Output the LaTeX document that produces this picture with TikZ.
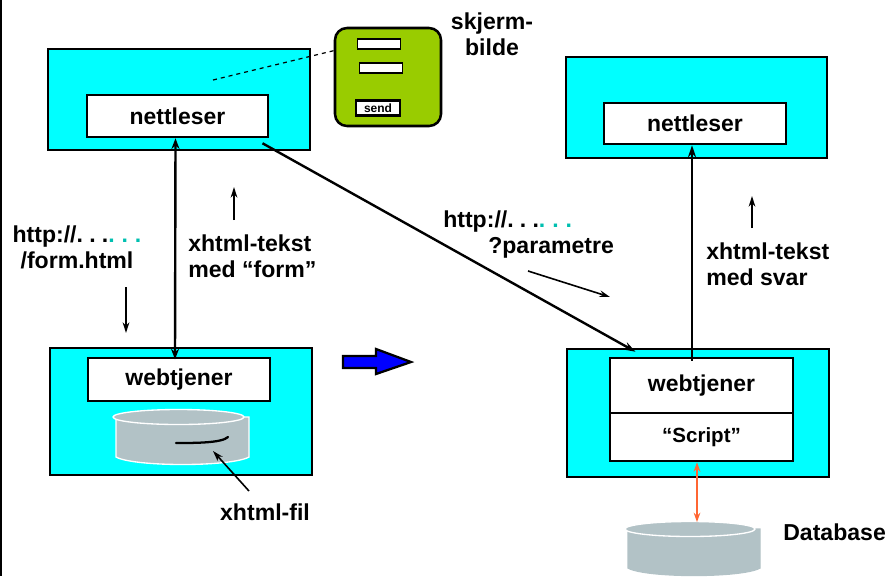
\documentclass[tikz,border=0pt]{standalone}
\usepackage{fontspec}
\setmainfont{Liberation Sans}
\usetikzlibrary{arrows.meta,calc}
\newdimen\px \px=0.75pt
\definecolor{boxcyan}{HTML}{00FFFF}
\definecolor{screengreen}{HTML}{99CC00}
\definecolor{cyl}{HTML}{B2C2C6}
\definecolor{tealdot}{HTML}{00BFB0}
\definecolor{linkorange}{HTML}{FF6633}
\newcommand{\mycyl}[5]{% left, right, top centre y, bottom y, edge colour
  \fill[cyl,draw=#5,line width=1pt] (#1,#3) -- (#1,#4-8) .. controls (#1+18,#4+2) and (#2-18,#4+2) .. (#2,#4-8) -- (#2,#3) -- cycle;
  \fill[cyl,draw=white,line width=1pt] ({(#1+#2)/2-4},#3) ellipse [x radius={(#2-#1)/2-1},y radius=7.5];
}
\newcommand{\dotgap}{\hspace{0.27em}}
\newcommand{\tealgap}{\hspace{0.3em}}
\newcommand{\urltext}{http://.\dotgap.\dotgap.{\color{tealdot}.\tealgap.\tealgap.}}
\tikzset{
  x=0.75pt,y=-0.75pt,
  outerbox/.style={draw=black,fill=boxcyan,line width=1.9pt,inner sep=0pt},
  innerbox/.style={draw=black,fill=white,line width=1.9pt,inner sep=0pt,font=\fontsize{17.2}{19}\selectfont\bfseries},
  fieldbox/.style={draw=black,fill=white,line width=0.9pt,inner sep=0pt},
  lbl/.style={inner sep=0pt,font=\fontsize{17.3}{19.5}\selectfont\bfseries,align=center},
  lblleft/.style={lbl,align=left},
  thick arrow/.style={line width=1.8pt,-{Stealth[length=9pt,width=6pt]}},
  thin arrow/.style={line width=1.2pt,-{Stealth[length=8pt,width=5pt]}},
}
\begin{document}
\begin{tikzpicture}
\useasboundingbox (0,0) rectangle (888,576);
\coordinate (ltop) at (1,0);
\coordinate (lbot) at (1,576);
\draw[line width=1pt] (ltop) -- (lbot);

% left browser
\node[outerbox,minimum width=262\px,minimum height=101\px] (br1) at (179,99.5) {};
\node[innerbox,minimum width=181\px,minimum height=42\px] (nl1) at (177.5,116) {nettleser};
% screen
\node[draw=black,fill=screengreen,line width=1.9pt,rounded corners=9pt,minimum width=106\px,minimum height=98\px,inner sep=0pt] (scr) at (388,77) {};
\node[fieldbox,minimum width=43\px,minimum height=10\px] (f1) at (379,44) {};
\node[fieldbox,minimum width=43\px,minimum height=10\px] (f2) at (381,68) {};
\node[draw=black,fill=white,line width=1.7pt,minimum width=44\px,minimum height=15\px,inner sep=0pt,font=\fontsize{9}{10}\selectfont\bfseries] (snd) at (378,108) {send};
\coordinate (dashend) at (213,80);
\draw[dashed,line width=0.9pt] (dashend) -- ([yshift=-0.5pt]scr.west |- 0,50);
\node[lbl] (skj) at (492,34) {skjerm-\\bilde};

% left server
\node[outerbox,minimum width=262\px,minimum height=127\px] (sv1) at (181,411.5) {};
\node[innerbox,minimum width=182\px,minimum height=43\px] (wt1) at (179,379.5) {webtjener};
\mycyl{116}{249}{417}{465}{white}
\coordinate (c1a) at (176,443);
\coordinate (c1b) at (228,437);
\draw[line width=1.7pt,line cap=round] (c1a) .. controls (195,443) and (222,443) .. (c1b);
\coordinate (fa) at (249,491);
\coordinate (fb) at (213,451);
\draw[thin arrow] (fa) -- (fb);
\node[lbl] (xf) at (265,512) {xhtml-fil};

% arrows left
\draw[line width=1.8pt,{Stealth[length=8pt,width=6pt]}-{Stealth[length=8pt,width=6pt]}] ([xshift=-2\px]nl1.south) -- ([xshift=-4\px,yshift=-2pt]wt1.north);
\coordinate (a1) at (126,287);
\coordinate (a2) at (126,333);
\draw[thin arrow] (a1) -- (a2);
\coordinate (a3) at (234,220);
\coordinate (a4) at (234,187);
\draw[thin arrow] (a3) -- (a4);
\node[lbl] (http1) at (77,247) {\urltext\\/form.html};
\node[lblleft,anchor=west] (xt1) at (188,256) {xhtml-tekst\\med “form”};

% block arrow
\path[draw=black,fill=blue,line width=1.7pt,line join=miter]
  (343,356) -- (376,356) -- (376,349) -- (411,362) -- (376,374) -- (376,368) -- (343,368) -- cycle;

% right browser
\node[outerbox,minimum width=261\px,minimum height=101\px] (br2) at (696.5,107.5) {};
\node[innerbox,minimum width=182\px,minimum height=41\px] (nl2) at (695,123.5) {nettleser};

% right server
\node[outerbox,minimum width=262\px,minimum height=128\px] (sv2) at (698,413) {};
\node[innerbox,minimum width=183\px,minimum height=55\px] (wt2) at (701.5,385.5) {webtjener};
\node[innerbox,minimum width=183\px,minimum height=48\px,font=\fontsize{15.4}{17}\selectfont\bfseries] (sc) at (701.5,437) {“Script”};

% right links
\draw[thick arrow] ([xshift=-9.5\px,yshift=-3pt]wt2.north) -- ([xshift=-3\px]nl2.south);
\draw[line width=1.8pt,-{Stealth[length=9pt,width=6pt]}] ([xshift=85\px,yshift=-5\px]nl1.south) -- ([xshift=-66\px,yshift=5\px]wt2.north);
\mycyl{628}{760}{529}{576}{cyl}
\coordinate (dbtop) at (697,522);
\draw[line width=1.5pt,linkorange,{Stealth[length=7pt,width=5pt]}-{Stealth[length=7pt,width=5pt]}] ([xshift=-4.5\px]sc.south) -- (dbtop);
\node[lblleft,anchor=west] (db) at (783,532) {Database};
\coordinate (a5) at (752,228);
\coordinate (a6) at (752,196);
\draw[thin arrow] (a5) -- (a6);
\coordinate (a7) at (528,271);
\coordinate (a8) at (610,297);
\draw[thin arrow] (a7) -- (a8);
\node[lblleft,anchor=west] (http2) at (443,235) {\urltext\\\hspace*{33.75pt}?parametre};
\node[lblleft,anchor=west] (xt2) at (706,264) {xhtml-tekst\\med svar};
\end{tikzpicture}
\end{document}
